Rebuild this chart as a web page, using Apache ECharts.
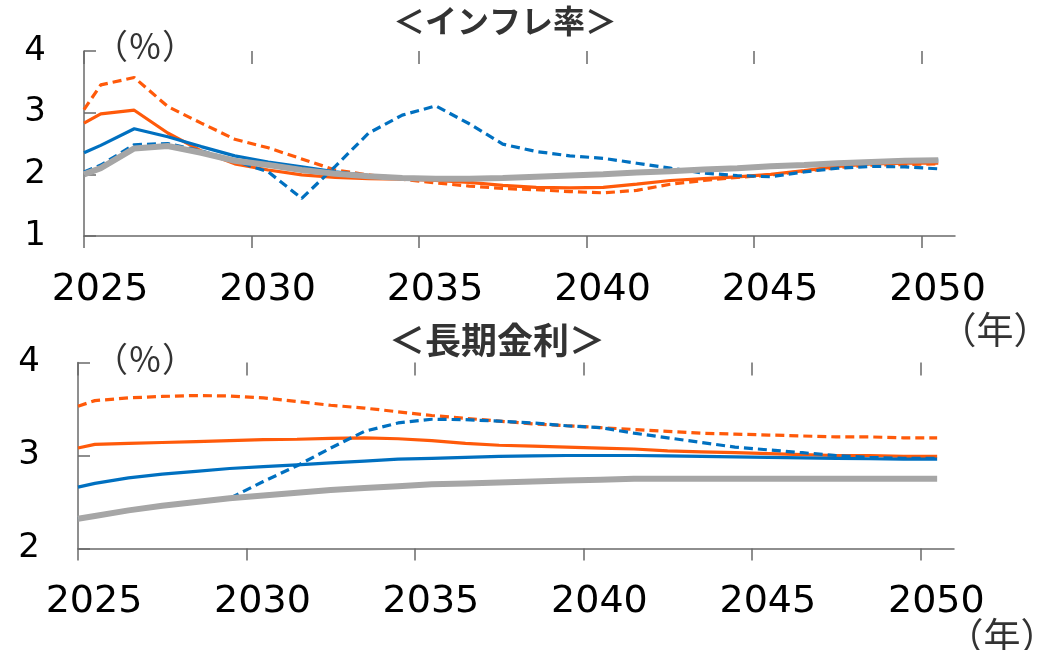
<!DOCTYPE html>
<html>
<head>
<meta charset="utf-8">
<script src="https://cdn.jsdelivr.net/npm/echarts@6/dist/echarts.min.js"></script>
<style>
  html, body { margin: 0; padding: 0; background: #fff; }
  #chart { width: 1037px; height: 650px; }
</style>
</head>
<body>
<div id="chart"></div>
<script>
// Year positions of the projection points (fiscal years plotted at mid-year)
const years = [2025, 2025.5, 2026.5, 2027.5, 2028.5, 2029.5, 2030.5, 2031.5, 2032.5,
  2033.5, 2034.5, 2035.5, 2036.5, 2037.5, 2038.5, 2039.5, 2040.5, 2041.5, 2042.5,
  2043.5, 2044.5, 2045.5, 2046.5, 2047.5, 2048.5, 2049.5, 2050.5];
const yearTicks = [2025, 2030, 2035, 2040, 2045, 2050];

// Inflation rate (%)
const inflOrange     = [2.83, 2.98, 3.04, 2.67, 2.38, 2.17, 2.07, 1.99, 1.95, 1.93, 1.92, 1.90, 1.87, 1.82, 1.79, 1.78, 1.79, 1.84, 1.90, 1.93, 1.96, 2.00, 2.06, 2.13, 2.17, 2.18, 2.18];
const inflOrangeDash = [3.05, 3.45, 3.57, 3.10, 2.83, 2.57, 2.43, 2.25, 2.07, 1.99, 1.92, 1.86, 1.81, 1.77, 1.75, 1.72, 1.70, 1.74, 1.84, 1.90, 1.95, 1.99, 2.05, 2.11, 2.15, 2.16, 2.17];
const inflBlue       = [2.35, 2.47, 2.74, 2.61, 2.45, 2.30, 2.20, 2.12, 2.04, 1.98, 1.95, 1.93, 1.93, 1.94, 1.96, 1.98, 2.00, 2.03, 2.05, 2.08, 2.10, 2.13, 2.15, 2.18, 2.20, 2.22, 2.23];
const inflBlueDash   = [2.04, 2.15, 2.48, 2.50, 2.38, 2.22, 2.04, 1.61, 2.13, 2.67, 2.96, 3.11, 2.82, 2.49, 2.37, 2.30, 2.26, 2.18, 2.10, 2.02, 1.98, 1.96, 2.04, 2.10, 2.13, 2.12, 2.09];
const inflBase       = [2.00, 2.10, 2.42, 2.46, 2.35, 2.22, 2.15, 2.07, 2.01, 1.97, 1.94, 1.93, 1.93, 1.94, 1.96, 1.98, 2.00, 2.03, 2.05, 2.08, 2.10, 2.13, 2.15, 2.18, 2.20, 2.22, 2.23];

// Long-term interest rate (%)
const rateOrange     = [3.08, 3.12, 3.13, 3.14, 3.15, 3.16, 3.17, 3.175, 3.185, 3.19, 3.18, 3.16, 3.13, 3.11, 3.10, 3.09, 3.08, 3.07, 3.05, 3.04, 3.03, 3.02, 3.01, 3.00, 3.00, 2.99, 2.99];
const rateOrangeDash = [3.53, 3.59, 3.62, 3.635, 3.645, 3.64, 3.62, 3.58, 3.54, 3.51, 3.47, 3.43, 3.40, 3.37, 3.34, 3.32, 3.30, 3.28, 3.26, 3.24, 3.23, 3.22, 3.21, 3.20, 3.20, 3.19, 3.19];
const rateBlue       = [2.66, 2.70, 2.76, 2.80, 2.83, 2.86, 2.88, 2.90, 2.92, 2.94, 2.96, 2.97, 2.98, 2.99, 2.995, 3.00, 3.00, 3.00, 2.995, 2.99, 2.985, 2.98, 2.975, 2.97, 2.965, 2.96, 2.96];
const rateBlueDash   = [2.32, 2.35, 2.41, 2.46, 2.50, 2.54, 2.72, 2.89, 3.08, 3.26, 3.35, 3.39, 3.385, 3.37, 3.35, 3.32, 3.30, 3.24, 3.19, 3.14, 3.09, 3.06, 3.03, 3.00, 2.98, 2.97, 2.97];
const rateBase       = [2.32, 2.35, 2.41, 2.46, 2.50, 2.54, 2.57, 2.60, 2.63, 2.65, 2.67, 2.69, 2.70, 2.71, 2.72, 2.73, 2.74, 2.75, 2.75, 2.75, 2.75, 2.75, 2.75, 2.75, 2.75, 2.75, 2.75];

const panelTitles = ['＜インフレ率＞', '＜長期金利＞'];
const unitLabel = '（％）';
const yearLabel = '（年）';

const NUM_FONT = 'DejaVu Sans';
const JP_FONT = 'Noto Sans CJK JP';
const AXIS_COLOR = '#6a6a6a';
const ORANGE = '#FF5A0A';
const BLUE = '#0070C0';
const GRAY = '#A6A6A6';

const grids = [
  { left: 84, top: 51, width: 871, height: 185 },
  { left: 78, top: 362.5, width: 876, height: 186 }
];

function xAxes(g) {
  const base = { type: 'value', gridIndex: g, min: 2025, max: 2051, interval: 5, splitLine: { show: false } };
  return [
    Object.assign({}, base, {
      axisLine: { show: true, lineStyle: { color: AXIS_COLOR, width: 1.5 } },
      axisTick: { show: true, inside: false, length: 12, customValues: yearTicks, lineStyle: { color: AXIS_COLOR, width: 1.5 } },
      axisLabel: {
        customValues: yearTicks, formatter: v => String(v),
        fontFamily: NUM_FONT, fontSize: 38, color: '#000', margin: 35, padding: [0, 0, 0, 32]
      }
    }),
    Object.assign({}, base, {
      axisLine: { show: false },
      axisTick: { show: true, inside: true, length: 13, customValues: yearTicks, lineStyle: { color: AXIS_COLOR, width: 1.5 } },
      axisLabel: { show: false }
    })
  ];
}

function yAxis(g, min, max) {
  return {
    type: 'value', gridIndex: g, min: min, max: max, interval: 1,
    axisLine: { show: true, lineStyle: { color: AXIS_COLOR, width: 1.5 } },
    axisTick: { show: true, inside: true, length: 12, lineStyle: { color: AXIS_COLOR, width: 1.5 } },
    axisLabel: { fontFamily: NUM_FONT, fontSize: 34, color: '#000', margin: 38 },
    splitLine: { show: false }
  };
}

function line(name, values, axisIdx, color, width, dashed) {
  return {
    name: name, type: 'line', xAxisIndex: axisIdx * 2, yAxisIndex: axisIdx,
    data: years.map((y, i) => [y, values[i]]),
    showSymbol: false, symbol: 'none', silent: true,
    lineStyle: { color: color, width: width, type: dashed ? [9, 5] : 'solid', cap: 'butt' }
  };
}

const chart = echarts.init(document.getElementById('chart'));
chart.setOption({
  animation: false,
  backgroundColor: '#fff',
  grid: grids,
  xAxis: xAxes(0).concat(xAxes(1)),
  yAxis: [yAxis(0, 1, 4), yAxis(1, 2, 4)],
  series: [
    line('inflOrange', inflOrange, 0, ORANGE, 3.2, false),
    line('inflOrangeDash', inflOrangeDash, 0, ORANGE, 3.2, true),
    line('inflBlue', inflBlue, 0, BLUE, 3.2, false),
    line('inflBlueDash', inflBlueDash, 0, BLUE, 3.2, true),
    line('inflBase', inflBase, 0, GRAY, 6, false),
    line('rateOrange', rateOrange, 1, ORANGE, 3.2, false),
    line('rateOrangeDash', rateOrangeDash, 1, ORANGE, 3.2, true),
    line('rateBlue', rateBlue, 1, BLUE, 3.2, false),
    line('rateBlueDash', rateBlueDash, 1, BLUE, 3.2, true),
    line('rateBase', rateBase, 1, GRAY, 6, false)
  ],
  graphic: [
    { type: 'text', x: 505, y: 21, style: { text: panelTitles[0], fontFamily: JP_FONT, fontWeight: 'bold', fontSize: 32, fill: '#333', align: 'center', verticalAlign: 'middle' } },
    { type: 'text', x: 497, y: 340, style: { text: panelTitles[1], fontFamily: JP_FONT, fontWeight: 'bold', fontSize: 36, fill: '#333', align: 'center', verticalAlign: 'middle' } },
    { type: 'text', x: 145, y: 46, style: { text: unitLabel, fontFamily: JP_FONT, fontSize: 34, fill: '#333', align: 'center', verticalAlign: 'middle' } },
    { type: 'text', x: 145, y: 359, style: { text: unitLabel, fontFamily: JP_FONT, fontSize: 34, fill: '#333', align: 'center', verticalAlign: 'middle' } },
    { type: 'text', x: 995, y: 330, style: { text: yearLabel, fontFamily: JP_FONT, fontSize: 37, fill: '#333', align: 'center', verticalAlign: 'middle' } },
    { type: 'text', x: 1002, y: 636, style: { text: yearLabel, fontFamily: JP_FONT, fontSize: 37, fill: '#333', align: 'center', verticalAlign: 'middle' } }
  ]
});
</script>
</body>
</html>
